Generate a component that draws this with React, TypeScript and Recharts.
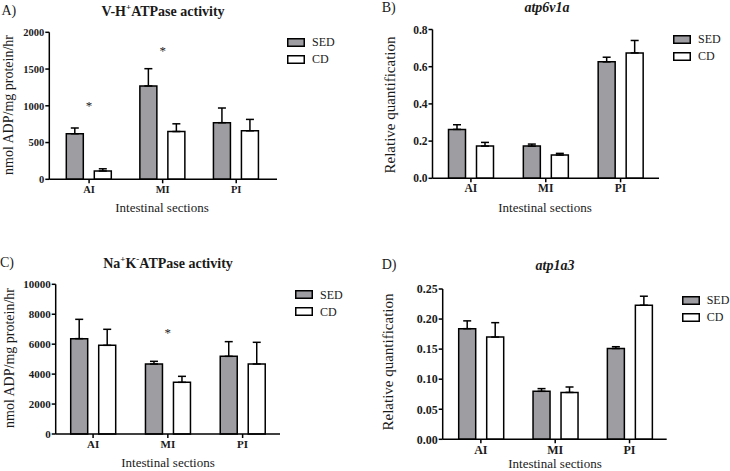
import React from 'react';
import { BarChart, Bar, XAxis, YAxis, Legend, ErrorBar, ReferenceDot } from 'recharts';

const FONT = "'Liberation Serif','Times New Roman',serif";
const INK = '#1a1a1a';
const GRAY = '#9e9ea2';

const categories = ['AI', 'MI', 'PI'];
const seriesOrder = ['SED', 'CD'];

// A) V-H+ ATPase activity
const sedA = [620, 1270, 770];
const sedAErr = [78, 235, 200];
const cdA = [113, 650, 660];
const cdAErr = [30, 105, 155];
const ticksA = [0, 500, 1000, 1500, 2000];
const starsA = [{ cat: 'AI', y: 1010 }, { cat: 'MI', y: 1750 }];

// B) atp6v1a
const sedB = [0.263, 0.173, 0.626];
const sedBErr = [0.025, 0.011, 0.025];
const cdB = [0.173, 0.125, 0.674];
const cdBErr = [0.02, 0.009, 0.067];
const ticksB = [0, 0.2, 0.4, 0.6, 0.8];

// C) Na+K- ATPase activity
const sedC = [6370, 4677, 5189];
const sedCErr = [1290, 178, 980];
const cdC = [5924, 3452, 4677];
const cdCErr = [1070, 400, 1448];
const ticksC = [0, 2000, 4000, 6000, 8000, 10000];
const starsC = [{ cat: 'MI', y: 6770 }];

// D) atp1a3
const sedD = [0.184, 0.0798, 0.151];
const sedDErr = [0.013, 0.0045, 0.003];
const cdD = [0.17, 0.078, 0.223];
const cdDErr = [0.024, 0.009, 0.015];
const ticksD = [0, 0.05, 0.1, 0.15, 0.2, 0.25];

const W = 365;

function LegendBox(props: any) {
  const payload = [...(props.payload || [])].sort(
    (a: any, b: any) => seriesOrder.indexOf(a.value) - seriesOrder.indexOf(b.value)
  );
  return (
    <div style={{ fontFamily: FONT }}>
      {payload.map((it: any) => (
        <div key={it.value} style={{ height: 17, display: 'flex', alignItems: 'center' }}>
          <svg width={18} height={9} style={{ display: 'block' }}>
            <rect x={0.75} y={0.75} width={16.5} height={7.5} fill={it.color} stroke="#000" strokeWidth={1.5} />
          </svg>
          <span style={{ marginLeft: 7, fontSize: 12, color: INK, lineHeight: 1, fontFamily: FONT }}>{it.value}</span>
        </div>
      ))}
    </div>
  );
}

function Star(props: any) {
  return (
    <text x={props.cx} y={props.cy} textAnchor="middle" dominantBaseline="central" fontSize={13} fill={INK} fontFamily={FONT}>
      *
    </text>
  );
}

function Panel(p: any) {
  const data = categories.map((c, i) => ({
    cat: c,
    SED: p.sed[i],
    CD: p.cd[i],
    sedErr: [0, p.sedErr[i]],
    cdErr: [0, p.cdErr[i]],
  }));
  const xAxisH = 24;
  const margin = {
    top: p.plotTop - p.top,
    right: p.left + W - p.plotRight,
    bottom: p.top + p.h - p.plotBottom - xAxisH,
    left: 0,
  };
  const tickStyle = { fontSize: p.tickSize, fontWeight: 'bold', fill: INK, fontFamily: FONT };
  return (
    <div style={{ position: 'absolute', left: p.left, top: p.top, width: W, height: p.h }}>
      <BarChart width={W} height={p.h} data={data} margin={margin} barSize={17} barGap={11}>
        <XAxis
          dataKey="cat"
          height={xAxisH}
          padding={p.pad}
          tick={tickStyle}
          tickSize={4}
          tickMargin={2}
          axisLine={{ stroke: '#000', strokeWidth: 1.5 }}
          tickLine={{ stroke: '#000', strokeWidth: 1.5 }}
        />
        <YAxis
          width={p.yAxisX - p.left}
          domain={[p.ticks[0], p.ticks[p.ticks.length - 1]]}
          ticks={p.ticks}
          tickFormatter={p.fmt}
          interval={0}
          tick={tickStyle}
          tickSize={4}
          tickMargin={1}
          axisLine={{ stroke: '#000', strokeWidth: 1.5 }}
          tickLine={{ stroke: '#000', strokeWidth: 1.5 }}
        />
        <Legend
          layout="vertical"
          align="center"
          verticalAlign="middle"
          wrapperStyle={{ left: p.legX - p.left, top: p.legY - p.top - 4.5, width: 'auto', height: 'auto' }}
          content={(lp: any) => <LegendBox payload={lp.payload} />}
        />
        <Bar dataKey="SED" name="SED" fill={GRAY} stroke="#000" strokeWidth={1.5} isAnimationActive={false}>
          <ErrorBar dataKey="sedErr" width={4} stroke="#000" strokeWidth={1.5} direction="y" />
        </Bar>
        <Bar dataKey="CD" name="CD" fill="#ffffff" stroke="#000" strokeWidth={1.5} isAnimationActive={false}>
          <ErrorBar dataKey="cdErr" width={4} stroke="#000" strokeWidth={1.5} direction="y" />
        </Bar>
        {(p.stars || []).map((s: any, i: number) => (
          <ReferenceDot key={i} x={s.cat} y={s.y} r={1} shape={<Star />} />
        ))}
      </BarChart>
    </div>
  );
}

function Txt(p: any) {
  const rot = p.rotate ? ' rotate(-90deg)' : '';
  const tx = p.anchor === 'start' ? '0' : '-50%';
  return (
    <div
      style={{
        position: 'absolute',
        left: p.x,
        top: p.y,
        transform: `translate(${tx},-50%)${rot}`,
        whiteSpace: 'nowrap',
        fontSize: p.size,
        lineHeight: 1,
        fontFamily: FONT,
        fontWeight: p.bold ? 'bold' : 'normal',
        fontStyle: p.italic ? 'italic' : 'normal',
        color: INK,
      }}
    >
      {p.children}
    </div>
  );
}

const fmt0 = (v: number) => String(v);
const fmt1 = (v: number) => v.toFixed(1);
const fmt2 = (v: number) => v.toFixed(2);

export default function App() {
  return (
    <div style={{ position: 'absolute', left: 0, top: 0, width: 730, height: 471, background: '#fff', overflow: 'hidden', fontFamily: FONT }}>
      <Panel
        left={0} top={0} h={236}
        yAxisX={49.3} plotRight={277} plotTop={32.3} plotBottom={179.3}
        pad={{ left: 3, right: 4 }}
        sed={sedA} sedErr={sedAErr} cd={cdA} cdErr={cdAErr}
        ticks={ticksA} fmt={fmt0} tickSize={10.5}
        legX={287} legY={38} stars={starsA}
      />
      <Panel
        left={365} top={0} h={236}
        yAxisX={432.5} plotRight={659} plotTop={29.5} plotBottom={178.3}
        pad={{ left: 1, right: 1 }}
        sed={sedB} sedErr={sedBErr} cd={cdB} cdErr={cdBErr}
        ticks={ticksB} fmt={fmt1} tickSize={11.5}
        legX={673} legY={35}
      />
      <Panel
        left={0} top={236} h={235}
        yAxisX={55.7} plotRight={280} plotTop={284.3} plotBottom={434}
        pad={{ left: 0, right: 0 }}
        sed={sedC} sedErr={sedCErr} cd={cdC} cdErr={cdCErr}
        ticks={ticksC} fmt={fmt0} tickSize={11}
        legX={295} legY={290.7} stars={starsC}
      />
      <Panel
        left={365} top={236} h={235}
        yAxisX={442.7} plotRight={666.7} plotTop={289} plotBottom={439.3}
        pad={{ left: 1, right: 0 }}
        sed={sedD} sedErr={sedDErr} cd={cdD} cdErr={cdDErr}
        ticks={ticksD} fmt={fmt2} tickSize={12}
        legX={681.7} legY={296}
      />

      <Txt x={1.5} y={11} size={14} anchor="start">A)</Txt>
      <Txt x={163} y={11} size={14} bold>V-H<sup style={{ fontSize: 9 }}>+</sup>ATPase activity</Txt>
      <Txt x={9} y={105} size={14} rotate>nmol ADP/mg protein/hr</Txt>
      <Txt x={162} y={207} size={13}>Intestinal sections</Txt>

      <Txt x={381.7} y={7.5} size={14} anchor="start">B)</Txt>
      <Txt x={547} y={7.5} size={14} bold italic>atp6v1a</Txt>
      <Txt x={390} y={105} size={15} rotate>Relative quantification</Txt>
      <Txt x={545} y={207} size={13}>Intestinal sections</Txt>

      <Txt x={0} y={263} size={14} anchor="start">C)</Txt>
      <Txt x={168} y={262.7} size={14} bold>Na<sup style={{ fontSize: 9 }}>+</sup>K<sup style={{ fontSize: 9 }}>-</sup>ATPase activity</Txt>
      <Txt x={10} y={358} size={14} rotate>nmol ADP/mg protein/hr</Txt>
      <Txt x={168} y={462} size={13}>Intestinal sections</Txt>

      <Txt x={381.7} y={265} size={14} anchor="start">D)</Txt>
      <Txt x={555} y={266} size={14} bold italic>atp1a3</Txt>
      <Txt x={388} y={361.7} size={15} rotate>Relative quantification</Txt>
      <Txt x={555} y={463} size={13}>Intestinal sections</Txt>
    </div>
  );
}
